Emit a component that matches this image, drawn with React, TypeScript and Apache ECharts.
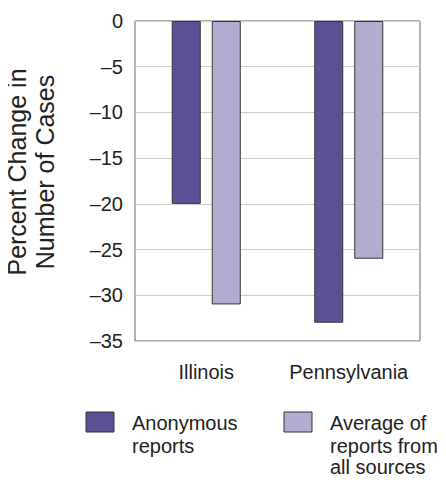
import React, { useEffect, useRef } from "react";
import * as echarts from "echarts";

const categories = ["Illinois", "Pennsylvania"];
const seriesNames = ["Anonymous reports", "Average of reports from all sources"];
const legendLines = [["Anonymous", "reports"], ["Average of", "reports from", "all sources"]];
const anonymous = [-20, -33];
const average = [-31, -26];
const colors = ["#5b5196", "#b3acd0"];
const yTicks = { min: -35, max: 0, interval: 5 };
const yName = "Percent Change in\nNumber of Cases";

const FONT = "'Liberation Sans', Arial, sans-serif";

export default function App() {
  const ref = useRef<HTMLDivElement>(null);
  useEffect(() => {
    const chart = echarts.init(ref.current!, null, { renderer: "svg" });
    const legendX = [86, 284];
    const textX = [132, 330];
    const lineY = [423, 446, 467];
    const graphic: any[] = [
      {
        type: "text",
        x: 31,
        y: 172,
        rotation: Math.PI / 2,
        style: {
          text: yName,
          font: `25px ${FONT}`,
          fill: "#222",
          lineHeight: 28,
          align: "center",
          verticalAlign: "middle",
        },
      },
    ];
    seriesNames.forEach((n, i) => {
      graphic.push({
        type: "rect",
        shape: { x: legendX[i], y: 412, width: 28, height: 20 },
        style: { fill: colors[i], stroke: "#333", lineWidth: 1 },
      });
      legendLines[i].forEach((t, j) => {
        graphic.push({
          type: "text",
          x: textX[i],
          y: lineY[j],
          style: {
            text: t,
            font: `20px ${FONT}`,
            fill: "#222",
            verticalAlign: "middle",
          },
        });
      });
    });
    chart.setOption({
      animation: false,
      textStyle: { fontFamily: FONT },
      grid: {
        left: 135,
        right: 26,
        top: 21,
        bottom: 141,
        show: true,
        borderColor: "#666",
        borderWidth: 1,
        containLabel: false,
      },
      legend: { show: false },
      xAxis: {
        type: "category",
        data: categories,
        position: "bottom",
        axisLine: { show: false },
        axisTick: { show: false },
        axisLabel: { interval: 0, fontSize: 20, color: "#222", margin: 21, fontFamily: FONT },
      },
      yAxis: {
        type: "value",
        min: yTicks.min,
        max: yTicks.max,
        interval: yTicks.interval,
        axisLine: { show: false },
        axisTick: { show: false },
        splitLine: { lineStyle: { color: "#cccccc", width: 1 } },
        axisLabel: {
          fontSize: 20,
          color: "#222",
          margin: 12,
          fontFamily: FONT,
          formatter: (v: number) => String(v).replace("-", "\u2013"),
        },
      },
      series: [
        {
          name: seriesNames[0],
          type: "bar",
          data: anonymous,
          barWidth: 29,
          barGap: "38%",
          itemStyle: { color: colors[0], borderColor: "#333", borderWidth: 1 },
        },
        {
          name: seriesNames[1],
          type: "bar",
          data: average,
          barWidth: 29,
          barGap: "38%",
          itemStyle: { color: colors[1], borderColor: "#333", borderWidth: 1 },
        },
      ],
      graphic,
    });
    return () => chart.dispose();
  }, []);
  return <div ref={ref} style={{ width: 446, height: 482, margin: -8 }} />;
}
